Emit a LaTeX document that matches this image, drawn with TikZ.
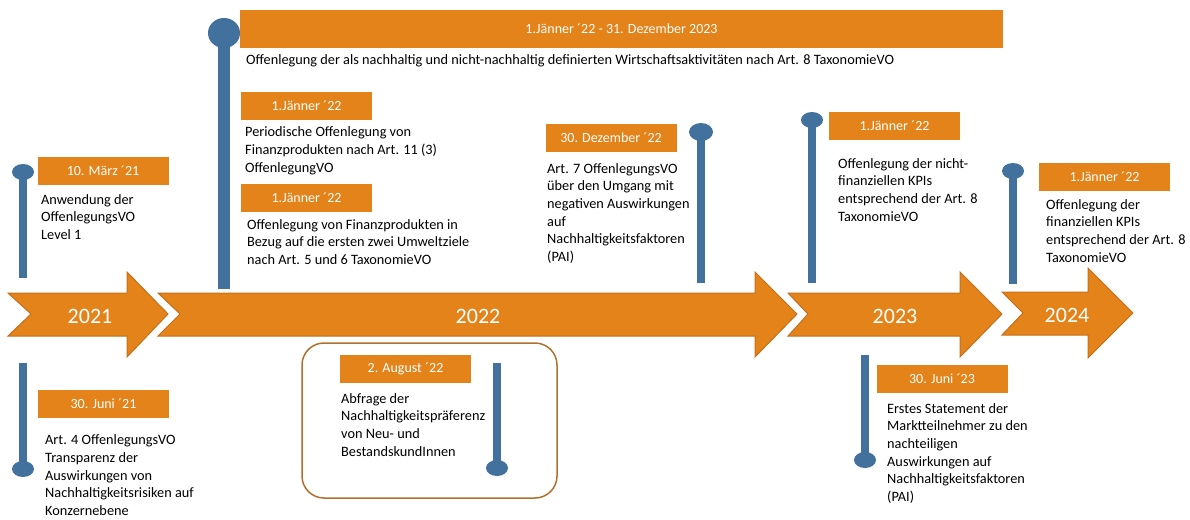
\documentclass[tikz,border=0pt]{standalone}
\usepackage{fontspec}
\setmainfont{Carlito}
\usepackage{tikz}

\definecolor{arroworange}{RGB}{227,131,25}
\definecolor{arrowedge}{RGB}{196,112,26}
\definecolor{pinblue}{RGB}{65,113,156}
\definecolor{framebrown}{RGB}{176,112,45}

\begin{document}
\begin{tikzpicture}[x=1pt, y=-1pt,
    yeararrow/.style={fill=arroworange, draw=arrowedge, line width=1pt, line join=miter},
    yearlabel/.style={text=white, font=\fontsize{22}{26}\selectfont},
    datebox/.style={fill=arroworange, text=white, minimum width=131pt, minimum height=28pt,
        inner sep=0pt, font=\fontsize{14}{17}\selectfont},
    infotext/.style={anchor=north west, align=left, inner sep=0pt,
        font=\fontsize{14.3}{17.7}\selectfont, execute at begin node=\strut},
    pinline/.style={draw=pinblue, line width=8pt},
    pinhead/.style={fill=pinblue}]
            \useasboundingbox (0,0) rectangle (1190,519);

            % Year arrows
            \draw [yeararrow] (8,293) -- (127,293) -- (127,272) -- (168,314) -- (127,357)
                -- (127,336) -- (8,336) -- (31,314) -- cycle;
            \draw [yeararrow] (158,293) -- (755,293) -- (755,272) -- (797,314) -- (755,357)
                -- (755,336) -- (158,336) -- (180,314) -- cycle;
            \draw [yeararrow] (788,293) -- (960,293) -- (960,272) -- (1002,314) -- (960,357)
                -- (960,336) -- (788,336) -- (808,314) -- cycle;
            \draw [yeararrow] (1002,292) -- (1088,292) -- (1088,268) -- (1133,313) -- (1088,358)
                -- (1088,335) -- (1002,335) -- (1023,313) -- cycle;
            \node [yearlabel] (y2021) at (90,316) {2021};
            \node [yearlabel] (y2022) at (478,316) {2022};
            \node [yearlabel] (y2023) at (895,316) {2023};
            \node [yearlabel] (y2024) at (1067,315) {2024};

            % Frame round the August entry
            \draw [framebrown, line width=1.5pt, rounded corners=22pt] (302,343) rectangle (557,498);

            % Pins
            \draw [pinline] (23,172) -- (23,278);
            \fill [pinhead] (23,172) ellipse (11 and 8);
            \draw [pinline] (23,363) -- (23,469);
            \fill [pinhead] (23,469) ellipse (11 and 8);
            \draw [pinline, line width=12pt] (224,33) -- (224,289);
            \fill [pinhead] (224,33) ellipse (16 and 15);
            \draw [pinline] (701,132) -- (701,283);
            \fill [pinhead] (701,132) ellipse (12 and 9);
            \draw [pinline] (812,120) -- (812,283);
            \fill [pinhead] (812,120) ellipse (11 and 8);
            \draw [pinline] (1013,171) -- (1013,284);
            \fill [pinhead] (1013,171) ellipse (11 and 8);
            \draw [pinline] (865,355) -- (865,460);
            \fill [pinhead] (865,460) ellipse (11 and 8);
            \draw [pinline] (497,363) -- (497,468);
            \fill [pinhead] (497,468) ellipse (11 and 8);

            % Dates
            \node [datebox, minimum width=763pt, minimum height=38pt] (dspan) at (621.5,29)
                {1.Jänner ´22 - 31. Dezember 2023};
            \node [datebox] (dmar21) at (103,170.5) {10. März ´21};
            \node [datebox] (djun21) at (103.5,403.5) {30. Juni ´21};
            \node [datebox] (djan22a) at (306.5,106) {1.Jänner ´22};
            \node [datebox] (djan22b) at (306.5,197.5) {1.Jänner ´22};
            \node [datebox] (daug22) at (405.5,369) {2. August ´22};
            \node [datebox] (ddec22) at (611,137.5) {30. Dezember ´22};
            \node [datebox] (djan23) at (894.5,126) {1.Jänner ´22};
            \node [datebox] (djan24) at (1104.5,176.5) {1.Jänner ´22};
            \node [datebox] (djun23) at (942,379) {30. Juni ´23};

            % Texts
            \node [infotext] (tspan) at (246,51.5)
                {Offenlegung der als nachhaltig und nicht-nachhaltig definierten Wirtschaftsaktivitäten nach Art. 8 TaxonomieVO};
            \node [infotext] (tmar21) at (41,194)
                {Anwendung der\\OffenlegungsVO\\Level 1};
            \node [infotext] (tjun21) at (45,434.5)
                {Art. 4 OffenlegungsVO\\Transparenz der\\Auswirkungen von\\Nachhaltigkeitsrisiken auf\\Konzernebene};
            \node [infotext] (tjan22a) at (245,126.5)
                {Periodische Offenlegung von\\Finanzprodukten nach Art. 11 (3)\\OffenlegungVO};
            \node [infotext] (tjan22b) at (247,219)
                {Offenlegung von Finanzprodukten in\\Bezug auf die ersten zwei Umweltziele\\nach Art. 5 und 6 TaxonomieVO};
            \node [infotext] (taug22) at (341,393)
                {Abfrage der\\Nachhaltigkeitspräferenz\\von Neu- und\\BestandskundInnen};
            \node [infotext] (tdec22) at (547,163)
                {Art. 7 OffenlegungsVO\\über den Umgang mit\\negativen Auswirkungen\\auf\\Nachhaltigkeitsfaktoren\\(PAI)};
            \node [infotext] (tjan23) at (838,158)
                {Offenlegung der nicht-\\finanziellen KPIs\\entsprechend der Art. 8\\TaxonomieVO};
            \node [infotext] (tjan24) at (1046,199)
                {Offenlegung der\\finanziellen KPIs\\entsprechend der Art. 8\\TaxonomieVO};
            \node [infotext] (tjun23) at (887,403)
                {Erstes Statement der\\Marktteilnehmer zu den\\nachteiligen\\Auswirkungen auf\\Nachhaltigkeitsfaktoren\\(PAI)};
        \end{tikzpicture}
\end{document}
